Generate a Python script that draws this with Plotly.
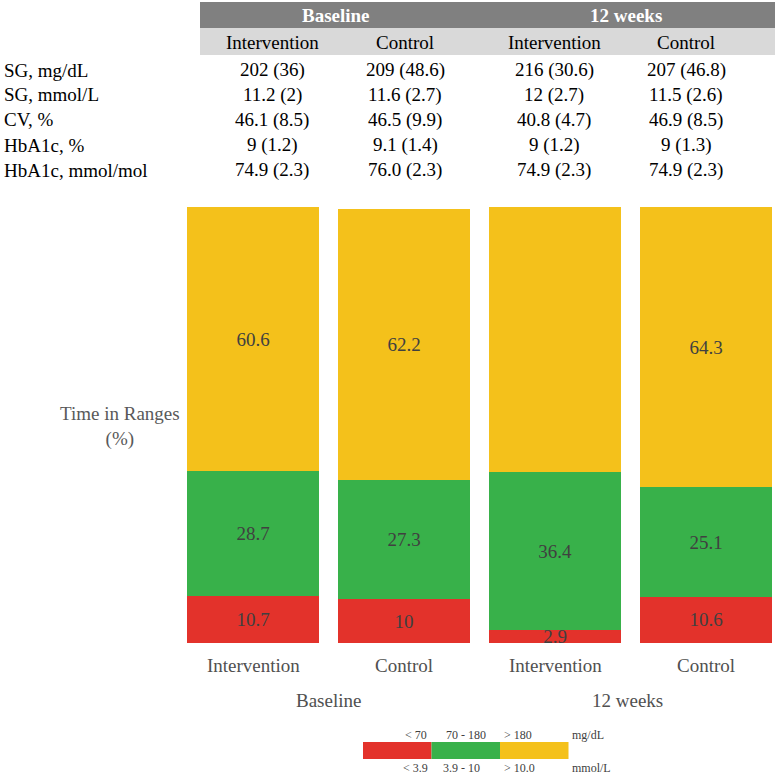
import plotly.graph_objects as go

groups = ["Baseline", "12 weeks"]
arms = ["Intervention", "Control", "Intervention", "Control"]
low = [10.7, 10, 2.9, 10.6]
target = [28.7, 27.3, 36.4, 25.1]
high = [60.6, 62.2, 61.1, 64.3]

row_labels = ["SG, mg/dL", "SG, mmol/L", "CV, %", "HbA1c, %", "HbA1c, mmol/mol"]
table_vals = [
    ["202 (36)", "209 (48.6)", "216 (30.6)", "207 (46.8)"],
    ["11.2 (2)", "11.6 (2.7)", "12 (2.7)", "11.5 (2.6)"],
    ["46.1 (8.5)", "46.5 (9.9)", "40.8 (4.7)", "46.9 (8.5)"],
    ["9 (1.2)", "9.1 (1.4)", "9 (1.2)", "9 (1.3)"],
    ["74.9 (2.3)", "76.0 (2.3)", "74.9 (2.3)", "74.9 (2.3)"],
]
legend_mg = ["< 70", "70 - 180", "> 180"]
legend_mmol = ["< 3.9", "3.9 - 10", "> 10.0"]

RED = "#e3322b"
GREEN = "#38b14a"
YELLOW = "#f4c11b"
FONT = "Liberation Serif, Times New Roman, DejaVu Serif, serif"
W = H = 775
FS = 19

def px(x):
    return x / W

def py(y):
    return 1 - y / H

xs = list(range(len(arms)))
fig = go.Figure()
for vals, col in [(low, RED), (target, GREEN), (high, YELLOW)]:
    fig.add_trace(go.Bar(
        x=xs, y=vals, width=0.874, marker=dict(color=col, line=dict(width=0)),
        text=[f"{v:g}" for v in vals], textposition="inside",
        insidetextanchor="middle", constraintext="none",
        textfont=dict(family=FONT, size=FS, color="#404040"),
        cliponaxis=False, showlegend=False, hoverinfo="skip"))

a = -253 / 151
fig.update_layout(
    width=W, height=H, margin=dict(l=0, r=0, t=0, b=0),
    barmode="stack", plot_bgcolor="white", paper_bgcolor="white",
    uniformtext=dict(mode="show", minsize=FS),
    xaxis=dict(range=[a, a + W / 151], domain=[0, 1], visible=False, fixedrange=True),
    yaxis=dict(range=[0, 100], domain=[py(643), py(207)], visible=False, fixedrange=True),
    font=dict(family=FONT),
)

shapes = []
shapes.append(dict(type="rect", xref="paper", yref="paper", x0=px(200), x1=1,
                   y0=py(28), y1=py(2), fillcolor="#808080", line=dict(width=0), layer="below"))
shapes.append(dict(type="rect", xref="paper", yref="paper", x0=px(200), x1=1,
                   y0=py(55), y1=py(28), fillcolor="#d9d9d9", line=dict(width=0), layer="below"))
for i, col in enumerate([RED, GREEN, YELLOW]):
    shapes.append(dict(type="rect", xref="paper", yref="paper",
                       x0=px(363 + 68.5 * i), x1=px(363 + 68.5 * (i + 1)),
                       y0=py(759), y1=py(742), fillcolor=col, line=dict(width=0)))
fig.update_layout(shapes=shapes)

ann = []
col_x = [272, 405, 554, 686]
for gx, g in zip([336, 626], groups):
    ann.append(dict(x=px(gx), y=py(15), text=f"<b>{g}</b>", font=dict(size=FS, color="white")))
for cx, arm in zip(col_x, arms):
    ann.append(dict(x=px(cx), y=py(42), text=arm, font=dict(size=FS, color="black")))
for r, (lab, vals) in enumerate(zip(row_labels, table_vals)):
    yy = py(70 + 25 * r)
    ann.append(dict(x=px(2), y=yy, text=lab, xanchor="left", font=dict(size=FS, color="black")))
    for cx, v in zip(col_x, vals):
        ann.append(dict(x=px(cx), y=yy, text=v, font=dict(size=FS, color="black")))
ann.append(dict(x=px(120), y=py(426), text="Time in Ranges<br>(%)",
                font=dict(size=FS, color="#595959")))
for i, arm in enumerate(arms):
    ann.append(dict(x=i, xref="x", y=py(665), text=arm, font=dict(size=FS, color="#505050")))
for gx, g in zip([328, 627], groups):
    ann.append(dict(x=px(gx), y=py(700), text=g, font=dict(size=FS, color="#505050")))
mg_x = [416, 466, 518]
mmol_x = [415, 462, 519]
for m1, m2, x1, x2 in zip(legend_mg, legend_mmol, mg_x, mmol_x):
    ann.append(dict(x=px(x1), y=py(735), text=m1, font=dict(size=12, color="#404040")))
    ann.append(dict(x=px(x2), y=py(768), text=m2, font=dict(size=12, color="#404040")))
ann.append(dict(x=px(570), y=py(735), text="mg/dL", xanchor="left", font=dict(size=12, color="#404040")))
ann.append(dict(x=px(570), y=py(768), text="mmol/L", xanchor="left", font=dict(size=12, color="#404040")))

for d in ann:
    d.setdefault("xref", "paper")
    d["yref"] = "paper"
    d.setdefault("xanchor", "center")
    d["yanchor"] = "middle"
    d["showarrow"] = False
    d["font"]["family"] = FONT
fig.update_layout(annotations=ann)

fig.write_html("out.html", config={"displayModeBar": False},
               post_script="document.body.style.margin='0';document.body.style.padding='0';")
